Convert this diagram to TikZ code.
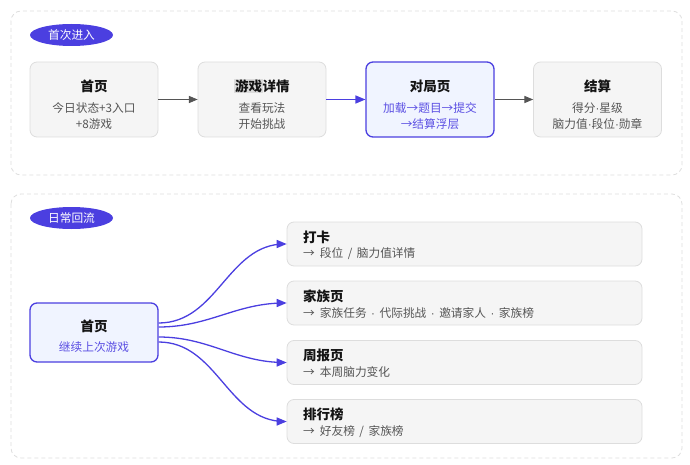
\documentclass[tikz,border=0pt]{standalone}
\usepackage{fontspec}
\setmainfont{Noto Sans CJK SC}
\newfontfamily\dotfont{Liberation Sans}
\newcommand{\md}{{\dotfont ·}}
\newcommand{\gapdot}{\hspace{4.5pt}\md\hspace{4.5pt}}
\newcommand{\gapsl}{\hspace{4.5pt}/\hspace{4.5pt}}
\newcommand{\lead}{→\hspace{5pt}}
\usepackage{tikz}
\usetikzlibrary{arrows,shapes.geometric}
\definecolor{indigo}{HTML}{4B3FE0}
\definecolor{hotfill}{HTML}{F0F4FF}
\definecolor{hotsub}{HTML}{5B4FE3}
\definecolor{cardfill}{HTML}{F5F5F5}
\definecolor{cardline}{HTML}{DDDDDD}
\definecolor{linegray}{HTML}{DEDEDE}
\definecolor{arrgray}{HTML}{555555}
\definecolor{ink}{HTML}{141414}
\definecolor{subgray}{HTML}{555555}
\definecolor{hlgray}{HTML}{DCDCDC}

\begin{document}
\begin{tikzpicture}[x=1pt, y=-1pt,
    pagebox/.style={draw=linegray, line width=0.8pt, dash pattern=on 4pt off 3pt, rounded corners=10pt},
    tag/.style={ellipse, fill=indigo, text=white, minimum width=83pt, minimum height=22pt, inner sep=0pt, font=\fontsize{11.7}{13}\selectfont},
    card/.style={draw=cardline, fill=cardfill, rounded corners=7pt, line width=0.8pt, minimum width=128pt, minimum height=75pt},
    hot/.style={draw=indigo, fill=hotfill, line width=1.3pt},
    row/.style={draw=cardline, fill=cardfill, rounded corners=7pt, line width=0.8pt, minimum width=355pt, minimum height=44pt},
    ttl/.style={font=\fontsize{13.5}{15}\selectfont\bfseries, text=ink, inner sep=0pt},
    sub/.style={font=\fontsize{11.7}{16}\selectfont, text=subgray, align=center, inner sep=0pt},
    flow/.style={-triangle 45, line width=1pt, draw=arrgray},
    hotflow/.style={-triangle 45, line width=1.3pt, draw=indigo}
  ]
  \useasboundingbox (0,0) rectangle (690,465);
  % first visit
  \draw[pagebox] (11,11) rectangle (682,175);
  \node[tag] (tag1) at (71.5,35) {首次进入};
  \node[card] (home) at (94,99.5) {};
  \node[card] (detail) at (262,99.5) {};
  \node[card, hot] (match) at (430,99.5) {};
  \node[card] (settle) at (597.5,99.5) {};
  \node[ttl] (home-t) at (94,86) {首页};
  \node[sub] (home-s) at (94,116) {今日状态+3入口\\+8游戏};
  \node[ttl] (detail-t) at (262,86) {\setlength{\fboxsep}{0.6pt}\colorbox{hlgray}{游戏}详情};
  \node[sub] (detail-s) at (262,116) {查看玩法\\开始挑战};
  \node[ttl] (match-t) at (430,86) {对局页};
  \node[sub, text=hotsub] (match-s) at (430,116) {加载→题目→提交\\→结算浮层};
  \node[ttl] (settle-t) at (597.5,86) {结算};
  \node[sub] (settle-s) at (597.5,116) {得分\md 星级\\脑力值\md 段位\md 勋章};
  \draw[flow] (home) -- (detail);
  \draw[hotflow] (detail) -- (match);
  \draw[flow] (match) -- (settle);
  % daily return
  \draw[pagebox] (11,194) rectangle (682,458);
  \node[tag] (tag2) at (71.5,218) {日常回流};
  \node[card, hot, minimum height=59pt] (back) at (94,332.5) {};
  \node[ttl] (back-t) at (94,326) {首页};
  \node[sub, text=hotsub] (back-s) at (94,347) {继续上次游戏};
  \node[row] (daka) at (464.5,244) {};
  \node[row] (clan) at (464.5,303) {};
  \node[row] (week) at (464.5,362.5) {};
  \node[row] (rank) at (464.5,421.5) {};
  \node[ttl, anchor=west] (daka-t) at (303,237) {打卡};
  \node[sub, anchor=west] (daka-s) at (303,254) {\lead 段位\gapsl 脑力值详情};
  \node[ttl, anchor=west] (clan-t) at (303,296) {家族页};
  \node[sub, anchor=west] (clan-s) at (303,313) {\lead 家族任务\gapdot 代际挑战\gapdot 邀请家人\gapdot 家族榜};
  \node[ttl, anchor=west] (week-t) at (303,355.5) {周报页};
  \node[sub, anchor=west] (week-s) at (303,372.5) {\lead 本周脑力变化};
  \node[ttl, anchor=west] (rank-t) at (303,414.5) {排行榜};
  \node[sub, anchor=west] (rank-s) at (303,431.5) {\lead 好友榜\gapsl 家族榜};
  \draw[hotflow] ([yshift=9.5pt]back.east) to[out=0, in=180] (daka.west);
  \draw[hotflow] ([yshift=5.5pt]back.east) to[out=0, in=180] (clan.west);
  \draw[hotflow] ([yshift=-4.5pt]back.east) to[out=0, in=180] (week.west);
  \draw[hotflow] ([yshift=-9.5pt]back.east) to[out=0, in=180] (rank.west);
\end{tikzpicture}
\end{document}
